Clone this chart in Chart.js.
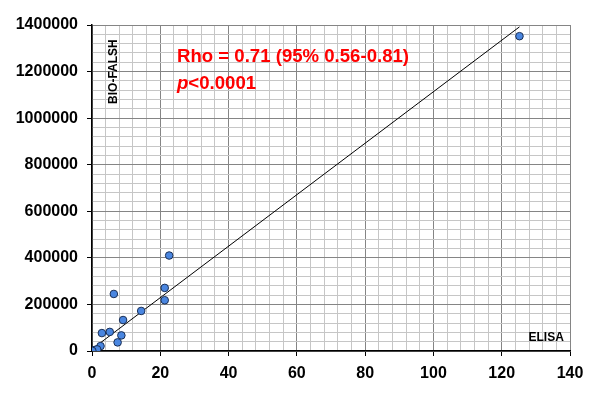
<!DOCTYPE html>
<html>
<head>
<meta charset="utf-8">
<script src="https://cdn.jsdelivr.net/npm/chart.js@4/dist/chart.umd.min.js"></script>
<style>
  html, body { margin: 0; padding: 0; background: #fff; }
  #wrap { width: 600px; height: 404px; }
</style>
</head>
<body>
<div id="wrap"><canvas id="chart"></canvas></div>
<script>
// ELISA (x) vs BIO-FALSH (y) measurements
const elisa = [125.2, 22.6, 6.4, 21.3, 21.3, 14.4, 9.1, 2.9, 5.2, 8.6, 7.5, 2.5, 0.2, 0.5, 1.0, 1.5, 0.1];
const bioFalsh = [1352000, 410000, 245000, 271000, 218000, 172000, 133000, 77000, 82000, 67000, 37000, 21000, 1000, 2000, 5000, 7000, 500];

// regression line end points
const fitX = [0, 125.2];
const fitY = [8000, 1392000];

const xTicks = [0, 20, 40, 60, 80, 100, 120, 140];
const yTicks = [0, 200000, 400000, 600000, 800000, 1000000, 1200000, 1400000];

const rhoText = 'Rho = 0.71 (95% 0.56-0.81)';

const points = elisa.map((x, i) => ({ x: x, y: bioFalsh[i] }));
const line = fitX.map((x, i) => ({ x: x, y: fitY[i] }));

const isMajor = (v, list) => list.includes(v);

const labelsPlugin = {
  id: 'labels',
  afterDatasetsDraw(chart) {
    const ctx = chart.ctx;
    const xs = chart.scales.x, ys = chart.scales.y;
    ctx.save();
    ctx.fillStyle = '#ff0000';
    ctx.textBaseline = 'middle';
    ctx.textAlign = 'left';
    ctx.font = 'bold 18.6px "Liberation Sans", Arial, sans-serif';
    const tx = xs.getPixelForValue(24.9);
    ctx.fillText(rhoText, tx, ys.getPixelForValue(1262000));
    const py = ys.getPixelForValue(1146000);
    ctx.font = 'italic bold 18.6px "Liberation Sans", Arial, sans-serif';
    ctx.fillText('p', tx, py);
    const pw = ctx.measureText('p').width;
    ctx.font = 'bold 18.6px "Liberation Sans", Arial, sans-serif';
    ctx.fillText('<0.0001', tx + pw, py);

    ctx.fillStyle = '#000';
    ctx.font = 'bold 12px "Liberation Sans", Arial, sans-serif';
    ctx.textAlign = 'right';
    ctx.fillText('ELISA', xs.getPixelForValue(138.2), ys.getPixelForValue(56000));

    ctx.translate(xs.getPixelForValue(6.3), ys.getPixelForValue(1200000));
    ctx.rotate(-Math.PI / 2);
    ctx.textAlign = 'center';
    ctx.fillText('BIO-FALSH', 0, 0);
    ctx.restore();
  }
};

new Chart(document.getElementById('chart'), {
  type: 'scatter',
  data: {
    datasets: [
      {
        type: 'line',
        data: line,
        borderColor: '#000',
        borderWidth: 1,
        pointRadius: 0,
        fill: false,
        order: 2
      },
      {
        data: points,
        backgroundColor: '#4a86e0',
        borderColor: '#1a2f55',
        borderWidth: 1,
        pointRadius: 3.8,
        order: 1
      }
    ]
  },
  options: {
    responsive: true,
    maintainAspectRatio: false,
    animation: false,
    layout: { padding: { top: 25, right: 30, left: 0, bottom: 0 } },
    plugins: { legend: { display: false }, tooltip: { enabled: false } },
    scales: {
      x: {
        type: 'linear',
        min: 0,
        max: 140,
        afterFit: (s) => { s.height = 53; },
        ticks: {
          stepSize: 4,
          autoSkip: false,
          maxRotation: 0,
          padding: 8,
          color: '#000',
          font: { family: '"Liberation Sans", Arial, sans-serif', size: 16, weight: 'bold' },
          callback: (v) => isMajor(v, xTicks) ? v : ''
        },
        grid: {
          color: (c) => isMajor(c.tick.value, xTicks) ? '#858585' : '#c6c6c6',
          tickColor: (c) => isMajor(c.tick.value, xTicks) ? '#000' : 'rgba(0,0,0,0)',
          tickLength: 5,
          lineWidth: 1
        },
        border: { color: '#000', width: 1.5 }
      },
      y: {
        type: 'linear',
        min: 0,
        max: 1400000,
        afterFit: (s) => { s.width = 92; },
        ticks: {
          stepSize: 40000,
          autoSkip: false,
          padding: 9,
          color: '#000',
          font: { family: '"Liberation Sans", Arial, sans-serif', size: 16, weight: 'bold' },
          callback: (v) => isMajor(v, yTicks) ? v : ''
        },
        grid: {
          color: (c) => isMajor(c.tick.value, yTicks) ? '#858585' : '#c6c6c6',
          tickColor: (c) => isMajor(c.tick.value, yTicks) ? '#000' : 'rgba(0,0,0,0)',
          tickLength: 5,
          lineWidth: 1
        },
        border: { color: '#000', width: 1.5 }
      }
    }
  },
  plugins: [labelsPlugin]
});
</script>
</body>
</html>
